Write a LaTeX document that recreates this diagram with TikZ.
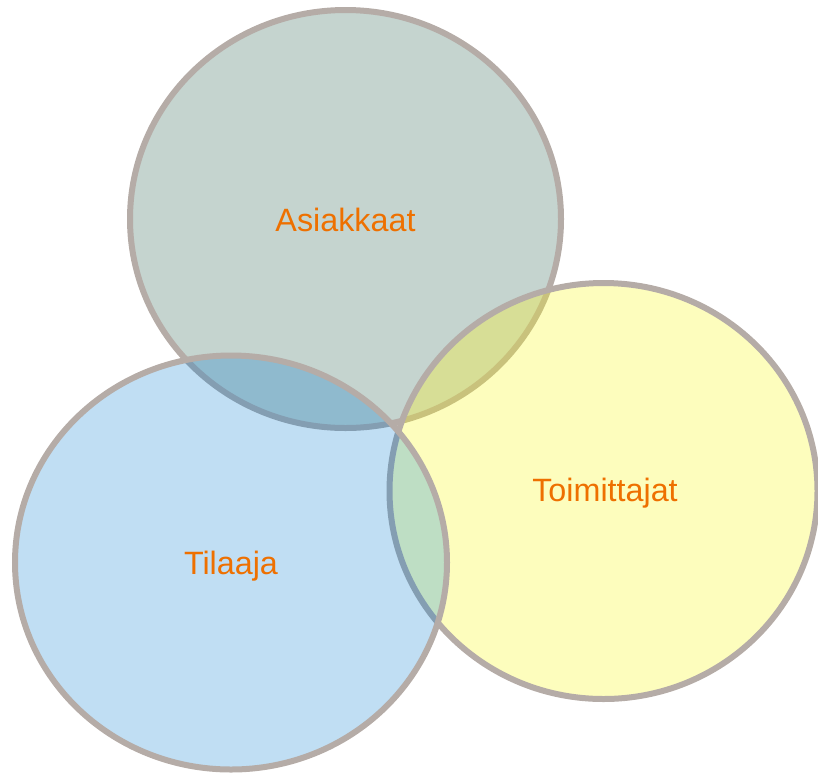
\documentclass[tikz,border=0pt]{standalone}
\usepackage{fontspec}
\setmainfont{Liberation Sans}
\definecolor{fillA}{HTML}{C5D4CF}
\definecolor{fillT}{HTML}{C0DEF3}
\definecolor{fillM}{HTML}{FDFDBD}
\definecolor{lensAT}{HTML}{8FBACE}
\definecolor{lensAM}{HTML}{D7DE96}
\definecolor{lensTM}{HTML}{BEDEC4}
\definecolor{lensAll}{HTML}{A3C6B4}
\definecolor{ringC}{HTML}{B5ACA7}
\definecolor{ringBlue}{HTML}{849EB2}
\definecolor{ringYel}{HTML}{C9C27C}
\definecolor{labelC}{HTML}{EE7000}
\tikzset{
  ring/.style={draw=ringC, line width=6pt},
  ringunderblue/.style={draw=ringBlue, line width=6pt},
  ringunderyel/.style={draw=ringYel, line width=6pt},
  setlabel/.style={text=labelC, font=\fontsize{32.3}{38}\selectfont, inner sep=0pt},
  ellA/.style={x radius=215.5pt, y radius=209pt},
  ellT/.style={x radius=216pt, y radius=207pt},
  ellM/.style={x radius=214pt, y radius=208pt}
}
\begin{document}
\begin{tikzpicture}[x=1pt, y=-1pt]
\useasboundingbox (0,0) rectangle (818,774);
\coordinate (cA) at (345.5,219);
\coordinate (cT) at (231,562.5);
\coordinate (cM) at (603.5,491);
% Asiakkaat
\fill[fillA] (cA) ellipse [ellA];
\draw[ring] (cA) ellipse [ellA];
% Toimittajat
\fill[fillM] (cM) ellipse [ellM];
\begin{scope}
  \clip (cM) ellipse [ellM];
  \fill[lensAM] (cA) ellipse [ellA];
  \draw[ringunderyel] (cA) ellipse [ellA];
\end{scope}
\draw[ring] (cM) ellipse [ellM];
% Tilaaja
\fill[fillT] (cT) ellipse [ellT];
\begin{scope}
  \clip (cT) ellipse [ellT];
  \fill[lensAT] (cA) ellipse [ellA];
  \fill[lensTM] (cM) ellipse [ellM];
  \begin{scope}
    \clip (cA) ellipse [ellA];
    \fill[lensAll] (cM) ellipse [ellM];
  \end{scope}
  \draw[ringunderblue] (cA) ellipse [ellA];
  \draw[ringunderblue] (cM) ellipse [ellM];
\end{scope}
\draw[ring] (cT) ellipse [ellT];
% labels
\node[setlabel] (lA) at (345.5,220) {Asiakkaat};
\node[setlabel] (lT) at (231,566.5) {Tilaaja};
\node[setlabel] (lM) at (605,493) {Toimittajat};
\end{tikzpicture}
\end{document}
